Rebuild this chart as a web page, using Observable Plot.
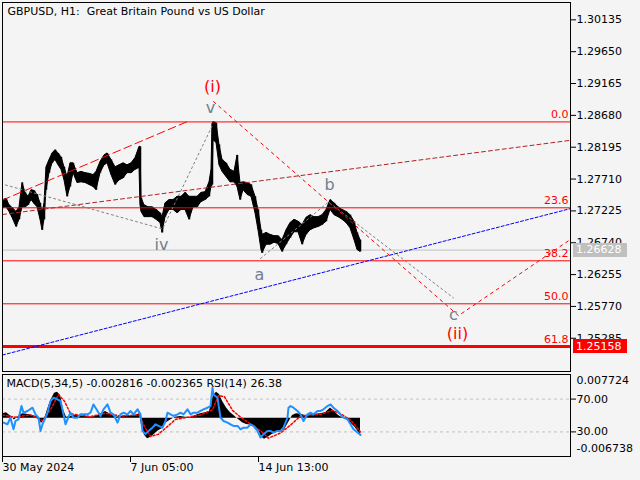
<!DOCTYPE html>
<html>
<head>
<meta charset="utf-8">
<script src="https://cdn.jsdelivr.net/npm/d3@7"></script>
<script src="https://cdn.jsdelivr.net/npm/@observablehq/plot@0.6"></script>
<style>
html, body { margin:0; padding:0; background:#f4f4f4; }
#wrap { position:relative; width:640px; height:480px; overflow:hidden; background:#f4f4f4; }
#wrap svg { position:absolute; left:0; }
#wrap text { white-space: pre; }
</style>
</head>
<body>
<div id="wrap"></div>
<script>
// ---------- data ----------
const chartTitle = "GBPUSD, H1:  Great Britain Pound vs US Dollar";
const macdTitle = "MACD(5,34,5) -0.002816 -0.002365 RSI(14) 26.38";

// hourly bar index (0 = 30 May 2024)
const bars = [1,4,7,10,14,17,20,23,26,29,32,35,38,40,42,44,47,50,53,56,59,62,65,68,71,75,79,83,87,91,94,98,102,105,109,113,117,121,125,129,133,137,138,139,142,146,150,154,158,160,163,167,171,175,179,183,187,191,195,199,203,207,209,210,211,214,217,220,224,228,232,235,238,241,245,249,253,256,259,260,264,268,272,276,280,284,288,292,296,300,304,308,312,316,320,324,328,332,336,340,344,348,352,355,358];
const high = [1.2739,1.2741,1.2731,1.2727,1.2721,1.2728,1.2765,1.2750,1.2744,1.2754,
1.2753,1.2747,1.2734,1.2719,1.2734,1.2789,1.2800,1.2810,1.2815,1.2810,
1.2804,1.2789,1.2774,1.2795,1.2795,1.2780,1.2782,1.2780,1.2779,1.2777,
1.2782,1.2797,1.2807,1.2810,1.2800,1.2789,1.2792,1.2795,1.2792,1.2795,
1.2803,1.2820,1.2820,1.2742,1.2731,1.2728,1.2728,1.2724,1.2719,1.2713,
1.2734,1.2739,1.2739,1.2744,1.2744,1.2750,1.2744,1.2744,1.2744,1.2750,
1.2751,1.2766,1.2785,1.2855,1.2858,1.2856,1.2823,1.2800,1.2795,1.2785,
1.2782,1.2807,1.2765,1.2766,1.2765,1.2762,1.2744,1.2724,1.2693,1.2686,
1.2689,1.2686,1.2684,1.2684,1.2678,1.2693,1.2704,1.2709,1.2706,1.2701,
1.2712,1.2716,1.2713,1.2713,1.2716,1.2724,1.2739,1.2734,1.2728,1.2724,
1.2721,1.2716,1.2706,1.2689,1.2678];
const low = [1.2727,1.2728,1.2721,1.2712,1.2698,1.2709,1.2728,1.2728,1.2731,1.2739,
1.2733,1.2728,1.2709,1.2693,1.2709,1.2754,1.2780,1.2795,1.2800,1.2792,
1.2785,1.2769,1.2744,1.2759,1.2780,1.2765,1.2766,1.2765,1.2762,1.2759,
1.2754,1.2780,1.2792,1.2795,1.2777,1.2762,1.2769,1.2772,1.2780,1.2780,
1.2785,1.2788,1.2731,1.2721,1.2713,1.2713,1.2713,1.2709,1.2704,1.2689,
1.2713,1.2724,1.2724,1.2719,1.2724,1.2724,1.2709,1.2728,1.2728,1.2736,
1.2739,1.2744,1.2759,1.2762,1.2830,1.2826,1.2792,1.2782,1.2774,1.2766,
1.2766,1.2759,1.2739,1.2754,1.2747,1.2744,1.2719,1.2693,1.2663,1.2658,
1.2671,1.2671,1.2674,1.2672,1.2660,1.2671,1.2681,1.2690,1.2690,1.2671,
1.2686,1.2693,1.2696,1.2698,1.2701,1.2706,1.2724,1.2716,1.2713,1.2709,
1.2704,1.2696,1.2678,1.2663,1.2660];

const priceTicks = [1.30135,1.29650,1.29165,1.28680,1.28195,1.27710,1.27225,1.26740,1.26255,1.25770,1.25285];
const fibNames = ["0.0","23.6","38.2","50.0","61.8"];
const fibPrices = [1.2858,1.27272,1.26465,1.2581,1.25158];
const bidPrice = 1.26628;
const supportPrice = 1.25158;

const trendRedBars = [0,184],   trendRedPrices = [1.2739,1.2858];
const channelBars = [0,568],    channelPrices = [1.2717,1.2830];
const blueBars = [0,568],       bluePrices = [1.2503,1.2726];
const grayPath1Bars = [3,160,210],   grayPath1Prices = [1.2762,1.2695,1.2853];
const grayPath2Bars = [258,326,451], grayPath2Prices = [1.2650,1.2736,1.2590];
const projBars = [211,456,566], projPrices = [1.2889,1.2563,1.2677];

const waveLabels = ["(i)","v","iv","a","b","c","(ii)"];
const waveBars   = [210,208,159,257,327,451,455];
const wavePrices = [1.2911,1.2879,1.2671,1.2625,1.2762,1.2564,1.2535];

const timeTicks = [0,128,256];
const timeLabels = ["30 May 2024","7 Jun 05:00","14 Jun 13:00"];

const macdMax = 0.007724, macdMin = -0.006738;
const macdBars = [0,4,8,12,16,20,24,28,32,36,39,42,45,48,52,55,58,61,64,68,73,78,83,88,93,98,103,108,113,118,123,128,133,137,139,142,145,148,152,156,160,164,168,173,178,183,188,193,198,203,207,211,214,217,220,224,228,232,236,240,244,248,252,256,259,262,266,270,274,278,282,286,290,294,298,303,308,313,318,323,328,332,336,340,344,348,352,356,358];
const macdValues = [0.0008,0.0010,0.0004,-0.0003,0.0003,0.0008,0.0007,0.0006,0.0004,0.0002,
-0.0009,-0.0002,0.0015,0.0030,0.0044,0.0046,0.0040,0.0015,0.0002,0.0003,
0.0005,0.0004,0.0003,0.0002,0.0003,0.0007,0.0012,0.0007,0.0002,0.0003,
0.0004,0.0004,0.0005,0.0008,-0.0012,-0.0030,-0.0036,-0.0034,-0.0028,-0.0022,
-0.0018,-0.0008,-0.0003,0.0002,0.0003,0.0002,0.0001,0.0005,0.0008,0.0010,
0.0012,0.0040,0.0046,0.0042,0.0030,0.0018,0.0010,0.0004,-0.0002,-0.0008,
-0.0011,-0.0012,-0.0013,-0.0020,-0.0033,-0.0037,-0.0033,-0.0028,-0.0025,-0.0024,
-0.0020,-0.0008,0.0005,0.0008,0.0007,0.0005,0.0006,0.0007,0.0008,0.0010,
0.0018,0.0012,0.0005,0.0001,-0.0002,-0.0008,-0.0015,-0.0024,-0.0028];
const signalBars = [0,12,28,40,48,56,62,68,88,103,118,137,142,148,156,164,173,198,210,216,222,230,238,248,260,266,278,288,298,318,330,338,348,358];
const signalValues = [0.0006,0.0002,0.0006,-0.0004,0.0015,0.0042,0.0030,0.0008,0.0003,0.0009,
0.0004,0.0006,-0.0015,-0.0032,-0.0028,-0.0016,-0.0002,0.0006,0.0015,0.0040,
0.0038,0.0014,0.0002,-0.0010,-0.0025,-0.0035,-0.0026,-0.0012,0.0004,0.0007,
0.0014,0.0008,-0.0003,-0.0024];
const rsiBars = [1,5,8,11,13,16,19,21,25,30,33,36,38,40,43,45,48,51,55,58,61,63,65,68,71,75,78,85,88,91,95,98,101,105,108,111,115,118,121,125,128,131,135,138,140,143,146,150,153,156,160,163,165,168,171,175,178,181,185,188,191,195,198,201,205,208,210,211,215,216,218,221,225,228,231,235,238,241,245,248,251,255,258,261,265,268,271,275,278,281,285,286,288,291,295,298,301,305,308,311,315,318,321,325,328,331,335,338,341,345,348,351,355,358];
const rsiValues = [41.3,39.3,47.4,33.2,43.3,45.4,61.5,53.4,55.5,59.5,
51.4,47.4,31.2,39.3,47.4,53.4,67.6,71.6,69.6,67.6,
51.4,39.3,45.4,53.4,47.4,47.4,51.4,51.4,53.4,63.5,
55.5,49.4,57.5,63.5,53.4,51.4,41.3,51.4,53.4,51.4,
55.5,51.4,57.5,51.4,31.2,27.2,31.2,35.2,39.3,37.3,
35.2,43.3,53.4,51.4,49.4,51.4,53.4,51.4,57.5,51.4,
53.4,53.4,55.5,57.5,59.5,61.5,83.7,75.7,71.6,63.5,
47.4,43.3,41.3,39.3,37.3,37.3,33.2,35.2,35.2,39.3,
37.3,31.2,23.1,27.2,31.2,31.2,29.2,31.2,31.2,35.2,
47.4,59.5,61.5,59.5,55.5,51.4,43.3,51.4,53.4,51.4,
55.5,55.5,57.5,61.5,63.5,59.5,55.5,51.4,47.4,45.4,
39.3,33.2,29.2,26.4];
const rsiLevels = [70,30];

// ---------- drawing ----------
const font = {background:"transparent", fontFamily:"'DejaVu Sans', sans-serif", fontSize:"11px", color:"black", overflow:"visible"};
const xDomain = [0, 568];
const wrap = document.getElementById("wrap");
const pairs = (bs, ps) => bs.map((b, i) => ({bar: b, p: ps[i]}));
const priceRows = bars.map((b, i) => ({bar: b, high: high[i], low: low[i]}));
const waveRows = waveLabels.map((t, i) => ({t, bar: waveBars[i], p: wavePrices[i]}));
const dashed = (bs, ps, stroke, dash) => Plot.line(pairs(bs, ps), {x: "bar", y: "p", stroke, strokeWidth: 1, strokeDasharray: dash});

const main = Plot.plot({
  width: 640, height: 373,
  marginLeft: 2, marginRight: 70, marginTop: 2, marginBottom: 2,
  style: font,
  x: {domain: xDomain, axis: null},
  y: {domain: [1.24779, 1.30399], axis: null, label: null},
  marks: [
    Plot.ruleY([bidPrice], {stroke: "#c0c0c0"}),
    Plot.areaY(priceRows, {x: "bar", y1: "low", y2: "high", fill: "black", stroke: "black", strokeWidth: 1}),
    Plot.ruleX(priceRows, {x: "bar", y1: "low", y2: "high", stroke: "black", strokeWidth: 1.5}),
    Plot.ruleY(fibPrices, {stroke: "#ff0000"}),
    Plot.ruleY([supportPrice], {stroke: "#ff0000", strokeWidth: 3}),
    dashed(channelBars, channelPrices, "#b22222", "4,3"),
    dashed(blueBars, bluePrices, "#0000ff", "3,2"),
    dashed(trendRedBars, trendRedPrices, "#ff0000", "8,4"),
    dashed(grayPath1Bars, grayPath1Prices, "#808080", "2,3"),
    dashed(grayPath2Bars, grayPath2Prices, "#808080", "2,3"),
    dashed(projBars, projPrices, "#ff0000", "3,4"),
    Plot.text(fibPrices, {y: d => d, text: (d, i) => fibNames[i], frameAnchor: "right", textAnchor: "end", dx: -2, dy: -7, fill: "#ff0000"}),
    Plot.text(waveRows.filter(d => d.t.startsWith("(")), {x: "bar", y: "p", text: "t", fill: "#ff0000", fontSize: 16}),
    Plot.text(waveRows.filter(d => !d.t.startsWith("(")), {x: "bar", y: "p", text: "t", fill: "#708090", fontSize: 16}),
    Plot.axisY(priceTicks, {anchor: "right", tickSize: 5, tickPadding: 1, tickFormat: d => d.toFixed(5), label: null}),
    Plot.frame({stroke: "black"}),
    Plot.text([chartTitle], {frameAnchor: "top-left", dx: 5, dy: 5, lineAnchor: "top", textAnchor: "start"})
  ]
});
main.style.top = "0px";
wrap.appendChild(main);

// price boxes on the axis
const yMain = main.scale("y");
function priceBox(price, fill) {
  const yy = yMain.apply(price);
  const g = d3.select(main).append("g").attr("text-anchor", "start");
  g.append("rect").attr("x", 573).attr("y", Math.round(yy) - 7).attr("width", 54).attr("height", 14).attr("fill", fill);
  g.append("text").attr("x", 576).attr("y", yy).attr("dy", "0.35em").attr("text-anchor", "start").attr("fill", "white").text(price.toFixed(5));
}
priceBox(bidPrice, "#c0c0c0");
priceBox(supportPrice, "#ff0000");

// indicator panel
const panelBase = {width: 640, height: 108, marginLeft: 2, marginRight: 70, marginTop: 2, marginBottom: 24, style: font};
const macdRows = pairs(macdBars, macdValues);
const signalRows = pairs(signalBars, signalValues);
const rsiRows = pairs(rsiBars, rsiValues);

const rsiBack = Plot.plot({
  ...panelBase,
  x: {domain: xDomain, axis: null},
  y: {domain: [0, 100], axis: null, label: null},
  marks: [
    Plot.ruleY(rsiLevels, {stroke: "#c0c0c0", strokeDasharray: "3,3"}),
    Plot.axisY(rsiLevels, {anchor: "right", tickSize: 5, tickPadding: 1, tickFormat: d => d.toFixed(2), label: null})
  ]
});
const macdLayer = Plot.plot({
  ...panelBase,
  x: {domain: xDomain, axis: null, label: null},
  y: {domain: [macdMin, macdMax], axis: null, label: null},
  marks: [
    Plot.areaY(macdRows, {x: "bar", y: "p", fill: "black"}),
    Plot.line(signalRows, {x: "bar", y: "p", stroke: "#ff0000", strokeDasharray: "2,2"}),
    Plot.axisY([macdMax], {anchor: "right", tickSize: 0, tickPadding: 6, dy: 6, tickFormat: d => d.toFixed(6), label: null}),
    Plot.axisY([macdMin], {anchor: "right", tickSize: 0, tickPadding: 6, dy: -8, tickFormat: d => d.toFixed(6), label: null}),
    Plot.axisX(timeTicks, {anchor: "bottom", tickSize: 6, tickPadding: 1, textAnchor: "start", tickFormat: d => timeLabels[timeTicks.indexOf(d)], label: null})
  ]
});
const rsiFront = Plot.plot({
  ...panelBase,
  x: {domain: xDomain, axis: null},
  y: {domain: [0, 100], axis: null, label: null},
  marks: [
    Plot.line(rsiRows, {x: "bar", y: "p", stroke: "#1e90ff", strokeWidth: 2}),
    Plot.frame({stroke: "black"}),
    Plot.text([macdTitle], {frameAnchor: "top-left", dx: 4, dy: 5, lineAnchor: "top", textAnchor: "start"})
  ]
});
for (const s of [rsiBack, macdLayer, rsiFront]) { s.style.top = "372px"; wrap.appendChild(s); }
</script>
</body>
</html>
